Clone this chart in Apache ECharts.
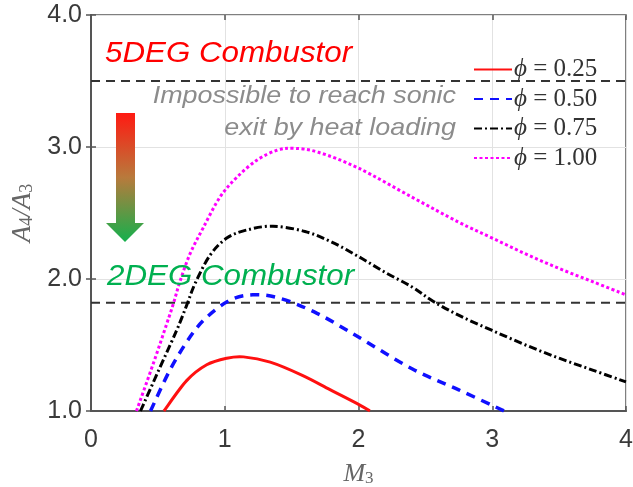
<!DOCTYPE html>
<html>
<head>
<meta charset="utf-8">
<script src="https://cdn.jsdelivr.net/npm/echarts@6/dist/echarts.min.js"></script>
<style>
  html, body { margin: 0; padding: 0; background: #fff; }
  #chart { width: 633px; height: 487px; }
</style>
</head>
<body>
<div id="chart"></div>
<script>
// Area ratio A4/A3 against inlet Mach number M3 for four equivalence ratios
const phiLabels = ['0.25', '0.50', '0.75', '1.00'];

const phi025 = [[0.545, 1.00], [0.715, 1.23], [0.865, 1.35], [1.015, 1.40], [1.14, 1.41],
  [1.34, 1.37], [1.58, 1.27], [1.79, 1.16], [2.01, 1.045], [2.085, 1.00]];

const phi050 = [[0.445, 1.00], [0.59, 1.31], [0.74, 1.56], [0.865, 1.71], [1.04, 1.84],
  [1.21, 1.88], [1.41, 1.855], [1.69, 1.74], [2.00, 1.56], [2.40, 1.32], [2.75, 1.16], [3.09, 1.00]];

const phi075 = [[0.37, 1.00], [0.52, 1.34], [0.64, 1.61], [0.715, 1.80], [0.78, 1.97],
  [0.89, 2.18], [1.015, 2.31], [1.16, 2.37], [1.36, 2.40], [1.60, 2.36], [1.80, 2.28],
  [2.00, 2.17], [2.20, 2.05], [2.40, 1.94], [2.56, 1.83], [2.76, 1.72], [3.00, 1.61],
  [3.25, 1.50], [3.50, 1.40], [3.75, 1.31], [4.00, 1.22]];

const phi100 = [[0.34, 1.00], [0.466, 1.36], [0.566, 1.66], [0.615, 1.81], [0.665, 1.98],
  [0.74, 2.19], [0.84, 2.39], [0.964, 2.62], [1.09, 2.77], [1.24, 2.90], [1.39, 2.975],
  [1.52, 2.99], [1.70, 2.96], [2.00, 2.84], [2.40, 2.62], [2.75, 2.43], [3.00, 2.31],
  [3.25, 2.19], [3.50, 2.08], [3.75, 1.98], [4.00, 1.88]];

// Design limits of the two combustor geometries
const limit5deg = 3.5;
const limit2deg = 1.82;

const xTicks = [0, 1, 2, 3, 4];
const yTicks = [1, 2, 3, 4];

const chart = echarts.init(document.getElementById('chart'), null, { renderer: 'canvas' });

const sans = 'Liberation Sans, Arial, sans-serif';
const serif = 'Liberation Serif, Times New Roman, serif';

const curveStyles = [
  { color: '#ff1010', type: 'solid', width: 3 },
  { color: '#1010ff', type: [9, 7], width: 3.5 },
  { color: '#000000', type: [8, 3, 2, 3], width: 3 },
  { color: '#ff00ff', type: [3, 2.5], width: 3 }
];
const curveData = [phi025, phi050, phi075, phi100];

// Catmull-Rom spline through pixel points, written as cubic Bezier segments
function splinePath(pts) {
  let d = 'M' + pts[0][0] + ',' + pts[0][1];
  for (let i = 0; i < pts.length - 1; i++) {
    const p0 = pts[i - 1] || pts[i], p1 = pts[i], p2 = pts[i + 1], p3 = pts[i + 2] || pts[i + 1];
    const c1 = [p1[0] + (p2[0] - p0[0]) / 6, p1[1] + (p2[1] - p0[1]) / 6];
    const c2 = [p2[0] - (p3[0] - p1[0]) / 6, p2[1] - (p3[1] - p1[1]) / 6];
    d += ' C' + c1[0] + ',' + c1[1] + ' ' + c2[0] + ',' + c2[1] + ' ' + p2[0] + ',' + p2[1];
  }
  return d;
}

function curveSeries(idx) {
  const data = curveData[idx], st = curveStyles[idx];
  return {
    type: 'custom', coordinateSystem: 'cartesian2d', data: data, silent: true, z: 3,
    encode: { x: 0, y: 1 },
    renderItem: function (params, api) {
      if (params.dataIndex !== 0) return null;
      const pts = data.map(p => api.coord(p));
      return {
        type: 'path',
        shape: { pathData: splinePath(pts) },
        style: {
          fill: 'none', stroke: st.color, lineWidth: st.width,
          lineDash: st.type === 'solid' ? null : st.type, lineCap: 'butt'
        }
      };
    }
  };
}

// Legend entries carry the line styles of the four curves
function legendSeries(idx) {
  const st = curveStyles[idx];
  return {
    name: phiLabels[idx], type: 'line', data: [], symbol: 'none',
    lineStyle: { color: st.color, width: st.width, type: st.type },
    itemStyle: { color: st.color }
  };
}

function limitLine(value) {
  return {
    type: 'line', data: [[xTicks[0], value], [xTicks[xTicks.length - 1], value]],
    showSymbol: false, symbol: 'none', silent: true, z: 2,
    lineStyle: { color: '#333', width: 1.8, type: [9, 6] }
  };
}

chart.setOption({
  animation: false,
  backgroundColor: '#fff',
  grid: {
    left: 91, right: 7, top: 15, bottom: 76, show: true, borderColor: '#555', borderWidth: 1.5,
    outerBoundsMode: 'none', containLabel: false
  },
  legend: {
    data: phiLabels,
    orient: 'vertical', left: 473, top: 57, padding: 0,
    itemWidth: 38, itemHeight: 14, itemGap: 4.5, itemStyle: { opacity: 0 },
    formatter: n => '{p|ϕ} = ' + n,
    textStyle: {
      fontFamily: serif, fontSize: 25, color: '#333', lineHeight: 24, padding: [0, 0, 0, -3],
      rich: { p: { fontFamily: serif, fontStyle: 'italic', fontSize: 25, color: '#333', lineHeight: 24 } }
    },
    selectedMode: false
  },
  xAxis: [{
    type: 'value', min: xTicks[0], max: xTicks[xTicks.length - 1], interval: 1,
    name: '{a|M}{s|3}', nameLocation: 'middle', nameGap: 50,
    nameTextStyle: {
      rich: {
        a: { fontFamily: serif, fontStyle: 'italic', fontSize: 26, color: '#666' },
        s: { fontFamily: serif, fontSize: 17, color: '#666', verticalAlign: 'bottom', padding: [8, 0, 0, 0] }
      }
    },
    axisLine: { lineStyle: { color: '#555', width: 2 } },
    axisTick: { inside: true, length: 5, lineStyle: { color: '#555', width: 1.5 } },
    axisLabel: { fontFamily: sans, fontSize: 25, color: '#3a3a3a', margin: 17 },
    splitLine: { lineStyle: { color: '#e2e2e2', width: 1 } }
  }, {
    type: 'value', position: 'top', min: xTicks[0], max: xTicks[xTicks.length - 1], interval: 1,
    axisLine: { show: false }, axisLabel: { show: false }, splitLine: { show: false },
    axisTick: { inside: true, length: 5, lineStyle: { color: '#555', width: 1.5 } }
  }],
  yAxis: [{
    type: 'value', min: yTicks[0], max: yTicks[yTicks.length - 1], interval: 1,
    name: '{a|A}{s|4}{a|/A}{s|3}', nameLocation: 'middle', nameGap: 55,
    nameTextStyle: {
      rich: {
        a: { fontFamily: serif, fontStyle: 'italic', fontSize: 27, color: '#666' },
        s: { fontFamily: serif, fontSize: 18, color: '#666', verticalAlign: 'bottom', padding: [8, 0, 0, 0] }
      }
    },
    axisLine: { show: true, lineStyle: { color: '#555', width: 2 } },
    axisTick: { show: true, inside: true, length: 5, lineStyle: { color: '#555', width: 1.5 } },
    axisLabel: { fontFamily: sans, fontSize: 25, color: '#3a3a3a', margin: 9, formatter: v => v.toFixed(1) },
    splitLine: { lineStyle: { color: '#e2e2e2', width: 1 } }
  }, {
    type: 'value', position: 'right', min: yTicks[0], max: yTicks[yTicks.length - 1], interval: 1,
    axisLine: { show: false }, axisLabel: { show: false }, splitLine: { show: false },
    axisTick: { show: true, inside: true, length: 5, lineStyle: { color: '#555', width: 1.5 } }
  }],
  series: [
    limitLine(limit5deg),
    limitLine(limit2deg),
    curveSeries(0), curveSeries(1), curveSeries(2), curveSeries(3),
    legendSeries(0), legendSeries(1), legendSeries(2), legendSeries(3)
  ],
  graphic: [
    {
      type: 'polygon', z: 10,
      shape: { points: [[116, 113], [135, 113], [135, 223], [144, 223], [125, 242], [106, 223], [116, 223]] },
      style: {
        fill: new echarts.graphic.LinearGradient(0, 0, 0, 1, [
          { offset: 0, color: '#ff1a12' },
          { offset: 0.5, color: '#b87a3c' },
          { offset: 1, color: '#14b04c' }
        ])
      }
    },
    {
      type: 'text', x: 105, y: 54, scaleX: 1.08, z: 10,
      style: { text: '5DEG Combustor', fontFamily: sans, fontStyle: 'italic', fontSize: 29,
        fill: '#ff0000', align: 'left', verticalAlign: 'middle' }
    },
    {
      type: 'text', x: 107, y: 276.5, scaleX: 1.08, z: 10,
      style: { text: '2DEG Combustor', fontFamily: sans, fontStyle: 'italic', fontSize: 29,
        fill: '#00b050', align: 'left', verticalAlign: 'middle' }
    },
    {
      type: 'text', x: 456, y: 96, scaleX: 1.12, z: 10,
      style: { text: 'Impossible to reach sonic', fontFamily: sans, fontStyle: 'italic', fontSize: 24,
        fill: '#8c8c8c', align: 'right', verticalAlign: 'middle' }
    },
    {
      type: 'text', x: 456, y: 128, scaleX: 1.12, z: 10,
      style: { text: 'exit by heat loading', fontFamily: sans, fontStyle: 'italic', fontSize: 24,
        fill: '#8c8c8c', align: 'right', verticalAlign: 'middle' }
    }
  ]
});
</script>
</body>
</html>
